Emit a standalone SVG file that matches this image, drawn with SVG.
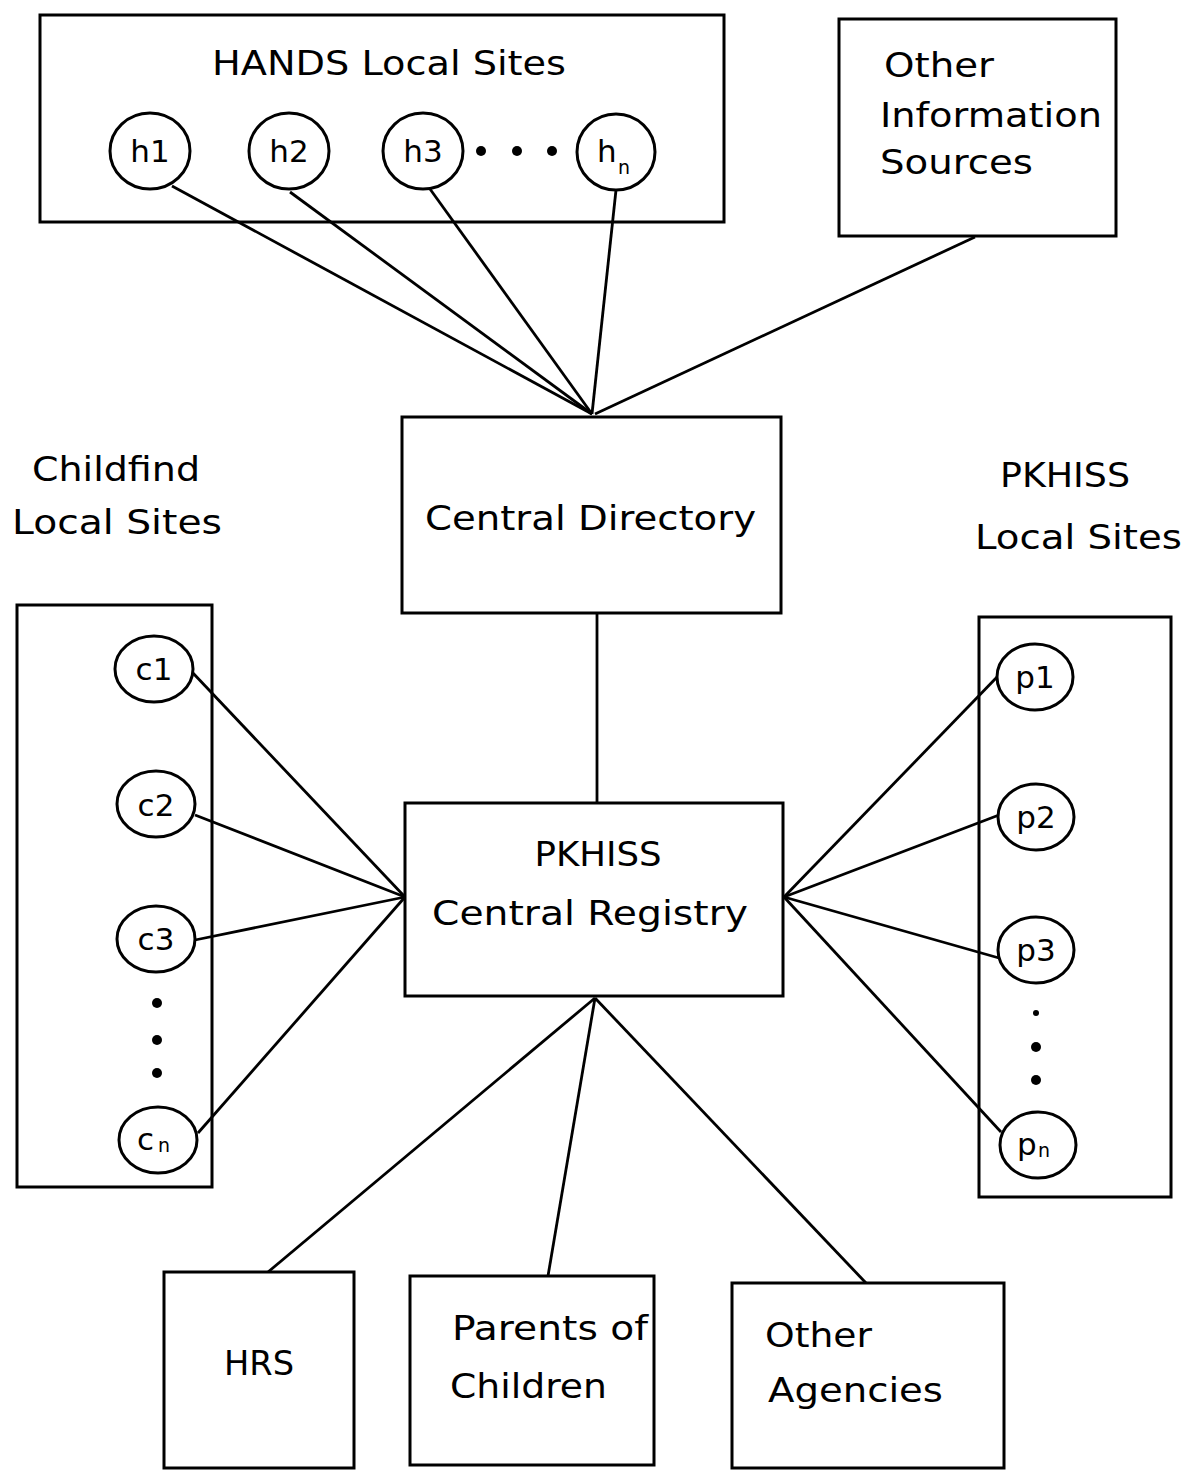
<svg xmlns="http://www.w3.org/2000/svg" width="1194" height="1470" viewBox="0 0 1194 1470">
<style>
.box{fill:none;stroke:#000;stroke-width:3}
.node{fill:#fff;stroke:#000;stroke-width:3}
.ln{fill:none;stroke:#000;stroke-width:2.8}
text{font-family:"DejaVu Sans","Liberation Sans",sans-serif;font-size:34px;fill:#000}
.sm{font-size:31px}
.sub{font-size:19px}
.dot{fill:#000}
</style>
<rect width="1194" height="1470" fill="#fff"/>
<g id="connectors">
<line class="ln" x1="172" y1="186" x2="592" y2="414"/>
<line class="ln" x1="290" y1="192" x2="592" y2="414"/>
<line class="ln" x1="430" y1="189" x2="592" y2="414"/>
<line class="ln" x1="616" y1="190" x2="592" y2="414"/>
<line class="ln" x1="975" y1="237" x2="595" y2="414"/>
<line class="ln" x1="597" y1="613" x2="597" y2="803"/>
<line class="ln" x1="192" y1="672" x2="405" y2="897"/>
<line class="ln" x1="195" y1="815" x2="405" y2="897"/>
<line class="ln" x1="195" y1="940" x2="405" y2="897"/>
<line class="ln" x1="198" y1="1133" x2="405" y2="897"/>
<line class="ln" x1="784" y1="897" x2="999" y2="675"/>
<line class="ln" x1="784" y1="897" x2="999" y2="815"/>
<line class="ln" x1="784" y1="897" x2="999" y2="958"/>
<line class="ln" x1="784" y1="897" x2="1001" y2="1132"/>
<line class="ln" x1="595" y1="998" x2="268" y2="1272"/>
<line class="ln" x1="595" y1="998" x2="548" y2="1276"/>
<line class="ln" x1="595" y1="998" x2="866" y2="1283"/>
</g>
<g id="hands">
<rect class="box" x="40" y="15" width="684" height="207"/>
<text x="389" y="75" text-anchor="middle" textLength="354" lengthAdjust="spacingAndGlyphs">HANDS Local Sites</text>
</g>
<g id="h1"><ellipse class="node" cx="150" cy="151" rx="40" ry="38"/><text class="sm" x="150" y="162" text-anchor="middle">h1</text></g>
<g id="h2"><ellipse class="node" cx="289" cy="151" rx="40" ry="38"/><text class="sm" x="289" y="162" text-anchor="middle">h2</text></g>
<g id="h3"><ellipse class="node" cx="423" cy="151" rx="40" ry="38"/><text class="sm" x="423" y="162" text-anchor="middle">h3</text></g>
<g id="hdots"><circle class="dot" cx="481" cy="151" r="5"/><circle class="dot" cx="517" cy="151" r="5"/><circle class="dot" cx="552" cy="151" r="5"/></g>
<g id="hn"><ellipse class="node" cx="616" cy="152" rx="39" ry="38"/><text class="sm" x="597" y="162">h</text><text class="sub" x="618" y="174">n</text></g>
<g id="other-info">
<rect class="box" x="839" y="19" width="277" height="217"/>
<text x="884" y="77" textLength="110" lengthAdjust="spacingAndGlyphs">Other</text>
<text x="880" y="127" textLength="222" lengthAdjust="spacingAndGlyphs">Information</text>
<text x="880" y="174" textLength="153" lengthAdjust="spacingAndGlyphs">Sources</text>
</g>
<g id="central-directory">
<rect class="box" x="402" y="417" width="379" height="196"/>
<text x="425" y="530" textLength="331" lengthAdjust="spacingAndGlyphs">Central Directory</text>
</g>
<g id="childfind-label">
<text x="32" y="481" textLength="168" lengthAdjust="spacingAndGlyphs">Childfind</text>
<text x="12" y="534" textLength="210" lengthAdjust="spacingAndGlyphs">Local Sites</text>
</g>
<g id="pkhiss-label">
<text x="1000" y="487" textLength="130" lengthAdjust="spacingAndGlyphs">PKHISS</text>
<text x="975" y="549" textLength="207" lengthAdjust="spacingAndGlyphs">Local Sites</text>
</g>
<g id="childfind">
<rect class="box" x="17" y="605" width="195" height="582"/>
</g>
<g id="c1"><ellipse class="node" cx="154" cy="669" rx="39" ry="33"/><text class="sm" x="154" y="680" text-anchor="middle">c1</text></g>
<g id="c2"><ellipse class="node" cx="156" cy="804" rx="39" ry="33"/><text class="sm" x="156" y="816" text-anchor="middle">c2</text></g>
<g id="c3"><ellipse class="node" cx="156" cy="939" rx="39" ry="33"/><text class="sm" x="156" y="950" text-anchor="middle">c3</text></g>
<g id="cdots"><circle class="dot" cx="157" cy="1003" r="5"/><circle class="dot" cx="157" cy="1040" r="5"/><circle class="dot" cx="157" cy="1073" r="5"/></g>
<g id="cn"><ellipse class="node" cx="158" cy="1140" rx="39" ry="33"/><text class="sm" x="137" y="1150">c</text><text class="sub" x="158" y="1152">n</text></g>
<g id="pkhiss-local">
<rect class="box" x="979" y="617" width="192" height="580"/>
</g>
<g id="p1"><ellipse class="node" cx="1035" cy="677" rx="38" ry="33"/><text class="sm" x="1035" y="688" text-anchor="middle">p1</text></g>
<g id="p2"><ellipse class="node" cx="1036" cy="817" rx="38" ry="33"/><text class="sm" x="1036" y="828" text-anchor="middle">p2</text></g>
<g id="p3"><ellipse class="node" cx="1036" cy="950" rx="38" ry="33"/><text class="sm" x="1036" y="961" text-anchor="middle">p3</text></g>
<g id="pdots"><circle class="dot" cx="1036" cy="1013" r="3"/><circle class="dot" cx="1036" cy="1047" r="5"/><circle class="dot" cx="1036" cy="1080" r="5"/></g>
<g id="pn"><ellipse class="node" cx="1038" cy="1145" rx="38" ry="33"/><text class="sm" x="1017" y="1155">p</text><text class="sub" x="1038" y="1157">n</text></g>
<g id="central-registry">
<rect class="box" x="405" y="803" width="378" height="193"/>
<text x="598" y="866" text-anchor="middle" textLength="127" lengthAdjust="spacingAndGlyphs">PKHISS</text>
<text x="432" y="925" textLength="316" lengthAdjust="spacingAndGlyphs">Central Registry</text>
</g>
<g id="hrs">
<rect class="box" x="164" y="1272" width="190" height="196"/>
<text x="224" y="1375" textLength="70" lengthAdjust="spacingAndGlyphs">HRS</text>
</g>
<g id="parents">
<rect class="box" x="410" y="1276" width="244" height="189"/>
<text x="452" y="1340" textLength="196" lengthAdjust="spacingAndGlyphs">Parents of</text>
<text x="450" y="1398" textLength="157" lengthAdjust="spacingAndGlyphs">Children</text>
</g>
<g id="other-agencies">
<rect class="box" x="732" y="1283" width="272" height="185"/>
<text x="765" y="1347" textLength="107" lengthAdjust="spacingAndGlyphs">Other</text>
<text x="768" y="1402" textLength="175" lengthAdjust="spacingAndGlyphs">Agencies</text>
</g>
</svg>
